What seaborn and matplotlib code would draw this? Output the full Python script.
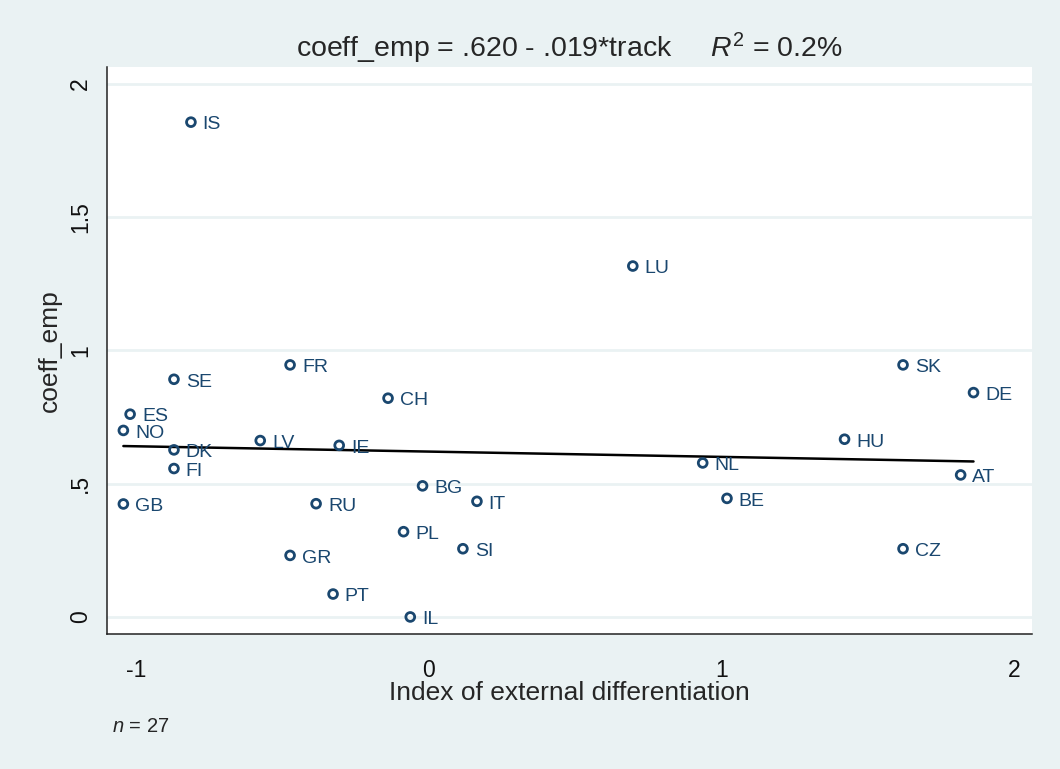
import matplotlib
matplotlib.use("Agg")
import matplotlib.pyplot as plt
import seaborn as sns
import pandas as pd
import numpy as np

countries = ["IS", "LU", "SK", "DE", "FR", "SE", "CH", "ES", "NO", "DK", "LV", "IE", "HU",
             "NL", "FI", "AT", "BG", "GB", "RU", "IT", "BE", "PL", "SI", "CZ", "GR", "PT", "IL"]
track = [-0.814, 0.697, 1.621, 1.862, -0.475, -0.872, -0.140, -1.022, -1.045, -0.872, -0.577,
         -0.307, 1.421, 0.936, -0.872, 1.818, -0.022, -1.045, -0.386, 0.164, 1.019, -0.087,
         0.116, 1.621, -0.475, -0.328, -0.064]
coeff_emp = [1.857, 1.317, 0.946, 0.842, 0.946, 0.892, 0.821, 0.761, 0.700, 0.627, 0.662,
             0.644, 0.667, 0.578, 0.557, 0.533, 0.492, 0.424, 0.425, 0.434, 0.445, 0.320,
             0.256, 0.256, 0.231, 0.086, 0.0]
xticks = [-1, 0, 1, 2]
yticks = [0, 0.5, 1, 1.5, 2]
ytick_labels = ["0", ".5", "1", "1.5", "2"]
title_text = "coeff_emp = .620 - .019*track     $\\mathit{R}^{2}$ = 0.2%"
xlabel = "Index of external differentiation"
ylabel = "coeff_emp"
note = "$\\mathit{n}$ = 27"

df = pd.DataFrame({"country": countries, "track": track, "coeff_emp": coeff_emp})

sns.set_style("white")
plt.rcParams["font.family"] = ["Liberation Sans", "DejaVu Sans"]
plt.rcParams["mathtext.fontset"] = "custom"
plt.rcParams["mathtext.rm"] = "Liberation Sans"
plt.rcParams["mathtext.it"] = "Liberation Sans:italic"

bg = "#EAF2F3"
navy = "#1A476F"

fig = plt.figure(figsize=(10.6, 7.69), dpi=100, facecolor=bg)
ax = fig.add_axes([107/1060, 1 - 634/769, (1032 - 107)/1060, (634 - 67)/769])
ax.set_facecolor("white")

for yv in yticks:
    ax.axhline(yv, color=bg, lw=2.0, zorder=0)

sns.scatterplot(data=df, x="track", y="coeff_emp", ax=ax, marker="o", s=40,
                facecolor="none", edgecolor=navy, linewidth=2.0, zorder=3)
sns.regplot(data=df, x="track", y="coeff_emp", ax=ax, scatter=False, ci=None,
            truncate=True, line_kws=dict(color="black", lw=1.8, zorder=2))

for c, xv, yv in zip(countries, track, coeff_emp):
    ax.annotate(c, (xv, yv), xytext=(8.5, -2.0), textcoords="offset points",
                va="center", ha="left", fontsize=14, color=navy, zorder=4)

ax.set_xlim(-1.101, 2.062)
ax.set_ylim(-0.064, 2.064)
ax.tick_params(axis="both", direction="out", length=7.2, width=1.1, color="#333333",
               labelsize=16.5, labelcolor="#111111")
ax.tick_params(axis="x", pad=11)
ax.tick_params(axis="y", pad=3.6, labelrotation=90)
ax.set_xticks(xticks)
ax.set_xticklabels([str(t) for t in xticks])
ax.set_yticks(yticks)
ax.set_yticklabels(ytick_labels, va="center")
ax.set_xlabel(xlabel, fontsize=19)
ax.set_ylabel(ylabel, fontsize=19)
ax.xaxis.set_label_coords(0.5, -0.083)
ax.yaxis.set_label_coords(-0.049, 0.5)

for side in ["top", "right"]:
    ax.spines[side].set_visible(False)
for side in ["left", "bottom"]:
    ax.spines[side].set_color("#222222")
    ax.spines[side].set_linewidth(1.1)

fig.text(569.5/1060, 1 - 57/769, title_text, ha="center", va="baseline", fontsize=20.5)
fig.text(112/1060, 1 - 727/769, note, ha="left", va="center", fontsize=14.5)

fig.savefig("out.png", dpi=100, facecolor=bg)
